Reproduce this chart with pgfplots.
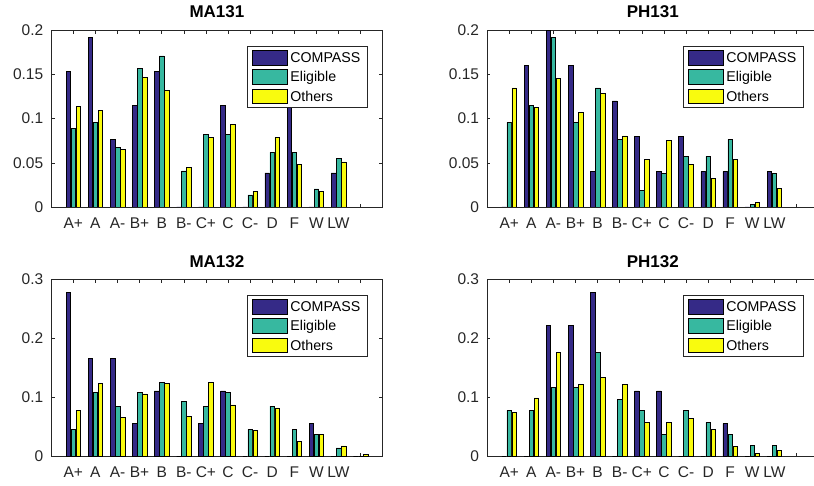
\documentclass[border=0pt]{standalone}
\usepackage{pgfplots}
\pgfplotsset{compat=1.18}
\usepackage{pgfplotstable}
\usepackage{fontspec}
\setmainfont{Liberation Sans}
\definecolor{cA}{RGB}{53,42,135}
\definecolor{cB}{RGB}{55,184,160}
\definecolor{cC}{RGB}{249,251,14}
\definecolor{axgray}{RGB}{38,38,38}

\pgfplotstableread{
x c e o
1 0.1538 0.0887 0.1140
2 0.1923 0.0958 0.1094
3 0.0769 0.0679 0.0649
4 0.1154 0.1570 0.1465
5 0.1538 0.1710 0.1320
6 0 0.0410 0.0445
7 0 0.0823 0.0789
8 0.1154 0.0823 0.0936
9 0 0.0136 0.0181
10 0.0385 0.0619 0.0789
11 0.1154 0.0619 0.0485
12 0 0.0204 0.0181
13 0.0385 0.0547 0.0510
}\maA

\pgfplotstableread{
x c e o
1 0 0.0958 0.1347
2 0.16 0.1150 0.1128
3 0.20 0.1920 0.1453
4 0.16 0.0958 0.1072
5 0.04 0.1347 0.1287
6 0.12 0.0766 0.0804
7 0.08 0.0192 0.0536
8 0.04 0.0381 0.0751
9 0.08 0.0574 0.0483
10 0.04 0.0574 0.0320
11 0.04 0.0766 0.0536
12 0 0.0030 0.0053
13 0.04 0.0381 0.0215
}\phA

\pgfplotstableread{
x c e o
1 0.2778 0.0458 0.0780
2 0.1667 0.1085 0.1232
3 0.1667 0.0847 0.0661
4 0.0556 0.1085 0.1062
5 0.1111 0.1249 0.1232
6 0 0.0932 0.0684
7 0.0556 0.0847 0.1260
8 0.1111 0.1085 0.0876
9 0 0.0458 0.0441
10 0 0.0853 0.0825
11 0 0.0458 0.0254
12 0.0556 0.0379 0.0373
13 0 0.0147 0.0181
14 0 0 0.0040
}\maB

\pgfplotstableread{
x c e o
1 0 0.0780 0.0751
2 0 0.0780 0.0994
3 0.2222 0.1170 0.1763
4 0.2222 0.1170 0.1226
5 0.2778 0.1763 0.1345
6 0 0.0972 0.1226
7 0.1111 0.0780 0.0576
8 0.1111 0.0379 0.0576
9 0 0.0780 0.0644
10 0 0.0576 0.0458
11 0.0556 0.0379 0.0175
12 0 0.0186 0.0050
13 0 0.0186 0.0102
}\phB

\pgfplotsset{
  mybar/.style={ybar, bar width=0.205, draw=black, line width=0.5pt,
    legend image code/.code={\draw[##1] (0pt,-7.35pt) rectangle (35.7pt,7.35pt);}},
  gradeaxis/.style={
    scale only axis, width=331.5pt, anchor=south west,
    xmin=0, xmax=15, ymin=0, enlargelimits=false,
    xtick={1,...,14}, xticklabels={A+,A,A-,B+,B,B-,C+,C,C-,D,F,W,LW,{}},
    tick align=inside, major tick length=3.3pt,
    axis line style={draw=axgray, line width=0.6pt},
    every tick/.style={draw=axgray, line width=0.6pt},
    /pgf/number format/assume math mode=true,
    every tick label/.append style={font=\fontsize{15.5}{18}\selectfont, text=axgray, inner sep=0pt},
    every x tick label/.append style={anchor=north, yshift=-9pt, text height=12pt},
    every y tick label/.append style={anchor=east, xshift=-7.8pt},
    every axis title/.append style={font=\fontsize{17}{20}\selectfont\bfseries, anchor=base, at={(0.5,1)}, yshift=6.3pt, inner sep=0pt},
    every axis legend/.append style={at={(0.954,0.91)}, anchor=north east, draw=axgray, line width=0.6pt,
      font=\fontsize{14.2}{17}\selectfont, inner xsep=4.3pt, inner ysep=2pt, row sep=1.26pt,
      cells={anchor=west}, nodes={inner xsep=2.5pt, inner ysep=1.5pt, text height=12.6pt, text depth=2.44pt}},
  },
  topaxis/.style={gradeaxis, height=176.7pt, ymax=0.2, ytick={0,0.05,0.1,0.15,0.2},
    yticklabels={0,0.05,0.1,0.15,0.2}},
  botaxis/.style={gradeaxis, height=177.2pt, ymax=0.3, ytick={0,0.1,0.2,0.3},
    yticklabels={0,0.1,0.2,0.3}},
}

\begin{document}
\begin{tikzpicture}
\path[use as bounding box] (0pt,0pt) rectangle (814pt,485pt);

\begin{axis}[topaxis, at={(51.2pt,278pt)}, title={MA131}]
\addplot[mybar, fill=cA, bar shift=-0.226] table[x=x,y=c] {\maA};
\addplot[mybar, fill=cB, bar shift=0] table[x=x,y=e] {\maA};
\addplot[mybar, fill=cC, bar shift=0.226] table[x=x,y=o] {\maA};
\legend{COMPASS,Eligible,Others}
\end{axis}

\begin{axis}[topaxis, at={(487.1pt,278pt)}, title={PH131}]
\addplot[mybar, fill=cA, bar shift=-0.226] table[x=x,y=c] {\phA};
\addplot[mybar, fill=cB, bar shift=0] table[x=x,y=e] {\phA};
\addplot[mybar, fill=cC, bar shift=0.226] table[x=x,y=o] {\phA};
\legend{COMPASS,Eligible,Others}
\end{axis}

\begin{axis}[botaxis, at={(51.2pt,28.5pt)}, title={MA132}]
\addplot[mybar, fill=cA, bar shift=-0.226] table[x=x,y=c] {\maB};
\addplot[mybar, fill=cB, bar shift=0] table[x=x,y=e] {\maB};
\addplot[mybar, fill=cC, bar shift=0.226] table[x=x,y=o] {\maB};
\legend{COMPASS,Eligible,Others}
\end{axis}

\begin{axis}[botaxis, at={(487.1pt,28.5pt)}, title={PH132}]
\addplot[mybar, fill=cA, bar shift=-0.226] table[x=x,y=c] {\phB};
\addplot[mybar, fill=cB, bar shift=0] table[x=x,y=e] {\phB};
\addplot[mybar, fill=cC, bar shift=0.226] table[x=x,y=o] {\phB};
\legend{COMPASS,Eligible,Others}
\end{axis}
\end{tikzpicture}
\end{document}
